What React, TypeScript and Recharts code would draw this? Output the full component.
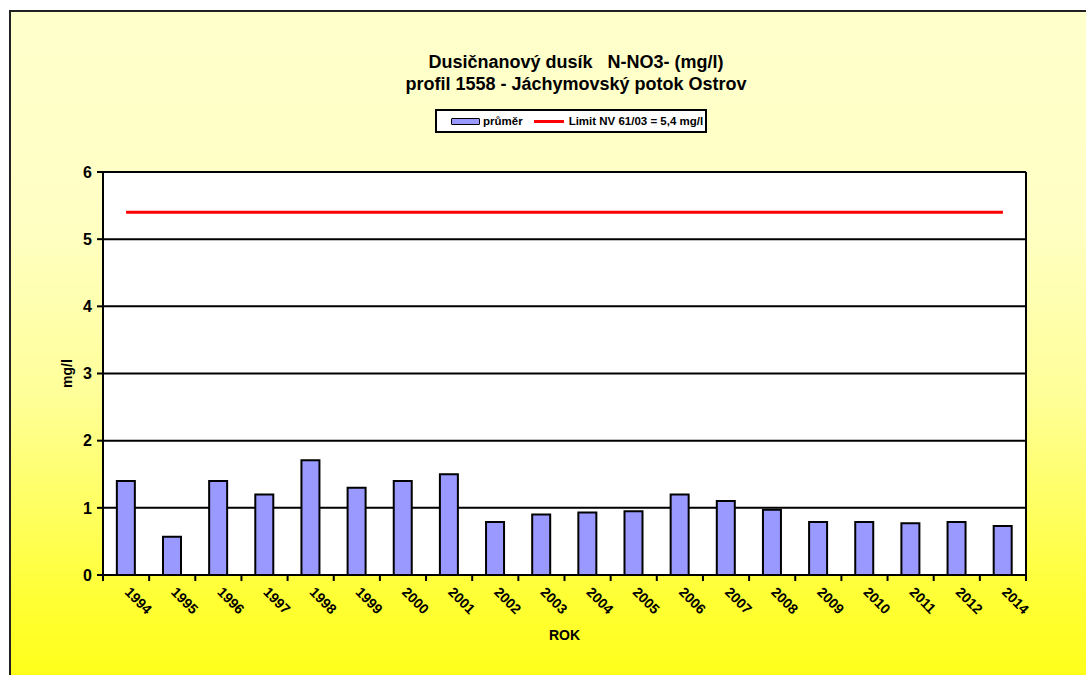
import {
  ComposedChart,
  Bar,
  Line,
  XAxis,
  YAxis,
  CartesianGrid,
  Label,
} from "recharts";

const years = [
  "1994", "1995", "1996", "1997", "1998", "1999", "2000", "2001", "2002", "2003",
  "2004", "2005", "2006", "2007", "2008", "2009", "2010", "2011", "2012", "2014",
];
const prumer = [
  1.4, 0.57, 1.4, 1.2, 1.71, 1.3, 1.4, 1.5, 0.79, 0.9,
  0.93, 0.95, 1.2, 1.1, 0.97, 0.79, 0.79, 0.77, 0.79, 0.73,
];
const limit = 5.4;
const yTicks = [0, 1, 2, 3, 4, 5, 6];

const data = years.map((year, i) => ({ year, prumer: prumer[i], limit }));

const W = 1086;
const H = 675;
const margin = { top: 172, right: 60, left: 63, bottom: 40 };
const yAxisWidth = 40;
const plotLeft = margin.left + yAxisWidth;
const plotRight = W - margin.right;
const step = (plotRight - plotLeft) / years.length;

const font = "'Liberation Sans', Arial, sans-serif";

const XTick = (props: any) => {
  const { x, y, payload, index } = props;
  const half = step / 2;
  return (
    <g>
      <line x1={x - half} y1={y} x2={x - half} y2={y + 6} stroke="#000" strokeWidth={2} />
      {index === years.length - 1 && (
        <line x1={x + half} y1={y} x2={x + half} y2={y + 6} stroke="#000" strokeWidth={2} />
      )}
      <text
        x={x - 2}
        y={y + 18}
        transform={`rotate(45, ${x - 2}, ${y + 18})`}
        textAnchor="start"
        fontSize={14}
        fontWeight="bold"
        fontFamily={font}
        fill="#000"
      >
        {payload.value}
      </text>
    </g>
  );
};

const LegendBox = () => (
  <div
    style={{
      position: "absolute",
      top: 109,
      left: 435,
      width: 268,
      height: 20,
      border: "2px solid #000",
      background: "#fff",
      display: "flex",
      alignItems: "center",
      fontFamily: font,
      fontSize: 11.5,
      fontWeight: "bold",
      color: "#000",
      whiteSpace: "nowrap",
    }}
  >
    <span
      style={{
        display: "inline-block",
        width: 27,
        height: 5,
        background: "#9999FF",
        border: "1.5px solid #000",
        borderRadius: 1,
        marginLeft: 14,
        marginRight: 3,
      }}
    />
    <span>průměr</span>
    <span
      style={{
        display: "inline-block",
        width: 30,
        height: 3,
        background: "#FF0000",
        marginLeft: 11,
        marginRight: 5,
      }}
    />
    <span>Limit NV 61/03 = 5,4 mg/l</span>
  </div>
);

export default function App() {
  return (
    <div
      style={{
        position: "absolute",
        top: 0,
        left: 0,
        width: W,
        height: H,
        overflow: "hidden",
        background: "#fff",
      }}
    >
      <div
        style={{
          position: "absolute",
          left: 9,
          top: 10,
          width: W + 20,
          height: H + 20,
          border: "2px solid #222",
          background:
            "linear-gradient(to bottom, #FFFFCC 0%, #FFFFC4 30%, #FFFF99 55%, #FFFF66 70%, #FFFF33 85%, #FFFF10 100%)",
        }}
      />
      <div
        style={{
          position: "absolute",
          top: 51,
          left: 0,
          width: 1152,
          textAlign: "center",
          fontFamily: font,
          fontWeight: "bold",
          fontSize: 18,
          lineHeight: "22px",
          color: "#000",
          whiteSpace: "pre",
        }}
      >
        {"Dusičnanový dusík   N-NO3- (mg/l)\nprofil 1558 - Jáchymovský potok Ostrov"}
      </div>
      <LegendBox />
      <div style={{ position: "absolute", top: 0, left: 0 }}>
        <ComposedChart width={W} height={H} data={data} margin={margin} barCategoryGap="30%">
          <CartesianGrid
            fill="#fff"
            stroke="#000"
            strokeWidth={2}
            verticalPoints={[plotRight]}
          />
          <XAxis
            dataKey="year"
            interval={0}
            height={60}
            tickSize={0}
            tickMargin={0}
            tick={<XTick />}
            axisLine={{ stroke: "#000", strokeWidth: 2 }}
            tickLine={false}
          >
            <Label
              value="ROK"
              position="insideBottom"
              offset={-5}
              style={{ fontFamily: font, fontSize: 14, fontWeight: "bold", fill: "#000" }}
            />
          </XAxis>
          <YAxis
            width={yAxisWidth}
            domain={[0, 6]}
            ticks={yTicks}
            interval={0}
            tickSize={6}
            tickMargin={5}
            axisLine={{ stroke: "#000", strokeWidth: 2 }}
            tickLine={{ stroke: "#000", strokeWidth: 2 }}
            tick={{ fontFamily: font, fontSize: 16, fontWeight: "bold", fill: "#000" }}
          >
            <Label
              value="mg/l"
              angle={-90}
              position="insideLeft"
              offset={4}
              style={{ fontFamily: font, fontSize: 14, fontWeight: "bold", fill: "#000", textAnchor: "middle" }}
            />
          </YAxis>
          <Bar
            dataKey="prumer"
            name="průměr"
            fill="#9999FF"
            stroke="#000"
            strokeWidth={2}
            isAnimationActive={false}
          />
          <Line
            dataKey="limit"
            name="Limit NV 61/03 = 5,4 mg/l"
            stroke="#FF0000"
            strokeWidth={3}
            dot={false}
            activeDot={false}
            isAnimationActive={false}
          />
        </ComposedChart>
      </div>
    </div>
  );
}
